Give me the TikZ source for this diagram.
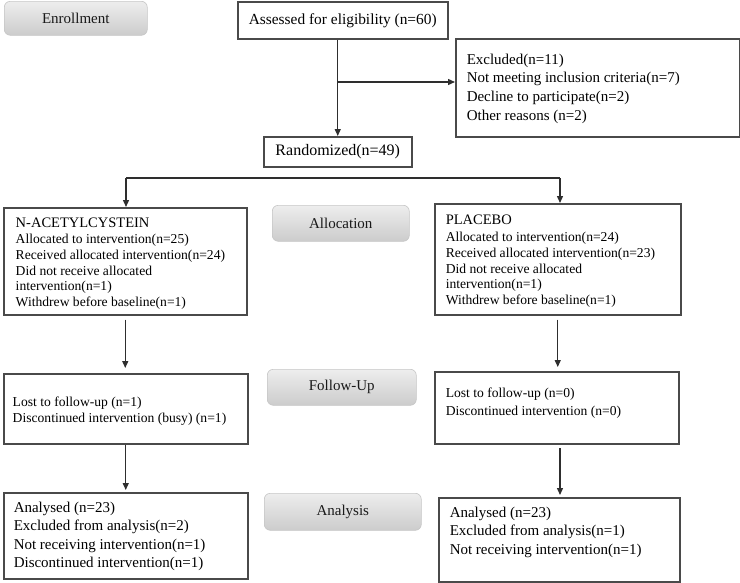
\documentclass[tikz,border=0pt]{standalone}
\usepackage{fontspec}
\setmainfont{Liberation Serif}
\usetikzlibrary{arrows.meta}
\definecolor{linec}{HTML}{2E2E2E}
\definecolor{boxc}{HTML}{4A4A4A}
\newcommand{\boxtxt}[5]{\parbox[c][#1][t]{#2}{\leftskip=#3\parindent=0pt\rule{0pt}{#4}#5}}
\tikzset{
  box/.style={draw=boxc, line width=1.5pt, fill=white, inner sep=0pt, anchor=north west},
  stage/.style={draw=gray!45, line width=0.6pt, rounded corners=6pt, top color=gray!14, bottom color=gray!40,
    inner sep=0pt, anchor=north west, font=\fontsize{15}{18}\selectfont, text=black!90},
  arr/.style={draw=linec, line width=1.35pt, -{Triangle[length=7pt,width=6pt]}},
  ln/.style={draw=linec, line width=1.35pt},
  big/.style={font=\fontsize{15}{18.5}\selectfont},
  small/.style={font=\fontsize{13.6}{15.6}\selectfont}
}
\begin{document}
\begin{tikzpicture}[x=1pt,y=-1pt]
\useasboundingbox (0,0) rectangle (740,582);
% stage labels
\node[stage, minimum width=143pt, minimum height=34pt] (enr) at (4,1) {Enrollment};
\node[stage, minimum width=137pt, minimum height=36pt] (alc) at (272,205) {Allocation};
\node[stage, minimum width=149pt, minimum height=36pt] (fol) at (267,369) {Follow-Up};
\node[stage, minimum width=157pt, minimum height=37pt] (ana) at (264,493) {Analysis};
% boxes
\node[box, minimum width=210pt, minimum height=37pt, font=\fontsize{15.4}{18}\selectfont] (ass) at (237,1) {Assessed for eligibility (n=60)};
\node[box, big] (exc) at (455,38) {\boxtxt{98pt}{284pt}{11pt}{25.5pt}{Excluded(n=11)\\[0.2pt]Not meeting inclusion criteria(n=7)\\[0.2pt]Decline to participate(n=2)\\[0.2pt]Other reasons (n=2)}};
\node[box, minimum width=148pt, minimum height=30pt, font=\fontsize{16}{18}\selectfont] (ran) at (263,136) {Randomized(n=49)};
\node[box, small] (nac) at (3,207) {\boxtxt{107pt}{243pt}{12pt}{19.3pt}{{\fontsize{14.5}{15.6}\selectfont N-ACETYLCYSTEIN}\\[1.2pt]Allocated to intervention(n=25)\\Received allocated intervention(n=24)\\Did not receive allocated\\intervention(n=1)\\Withdrew before baseline(n=1)}};
\node[box, small] (plc) at (434,203) {\boxtxt{111pt}{246pt}{11pt}{20.3pt}{{\fontsize{14.5}{15.6}\selectfont PLACEBO}\\[2.2pt]Allocated to intervention(n=24)\\Received allocated intervention(n=23)\\Did not receive allocated\\intervention(n=1)\\Withdrew before baseline(n=1)}};
\node[box, small] (ful) at (3,373) {\boxtxt{70pt}{244pt}{9pt}{33.1pt}{Lost to follow-up (n=1)\\[0.4pt]Discontinued intervention (busy) (n=1)}};
\node[box, small] (fur) at (434,371) {\boxtxt{72pt}{244pt}{11pt}{26.1pt}{Lost to follow-up (n=0)\\[1.9pt]Discontinued intervention (n=0)}};
\node[box, big] (anl) at (3,492) {\boxtxt{86pt}{244pt}{10pt}{19.5pt}{Analysed (n=23)\\Excluded from analysis(n=2)\\Not receiving intervention(n=1)\\Discontinued intervention(n=1)}};
\node[box, big] (anr) at (438,497) {\boxtxt{84pt}{241pt}{11pt}{19.5pt}{Analysed (n=23)\\Excluded from analysis(n=1)\\Not receiving intervention(n=1)}};
% connectors
\draw[arr] (ran.north |- ass.south) -- (ran.north);
\coordinate (br) at (338,82);
\draw[arr] (br) -- (exc.west |- br);
\coordinate (sl) at (126,178);
\coordinate (sr) at (560,178);
\draw[ln] (sl) -- (sr);
\draw[arr] (sl) -- (sl |- nac.north);
\draw[arr] (sr) -- (sr |- plc.north);
\draw[arr, shorten <=4pt, shorten >=5pt] (nac.south) -- (nac.south |- ful.north);
\draw[arr, shorten <=4pt, shorten >=4pt] (plc.south) -- (plc.south |- fur.north);
\draw[arr, shorten >=2pt] (ful.south) -- (ful.south |- anl.north);
\coordinate (fr) at (560,443);
\draw[arr, shorten <=5pt, shorten >=2pt] (fr) -- (fr |- anr.north);
\end{tikzpicture}
\end{document}
